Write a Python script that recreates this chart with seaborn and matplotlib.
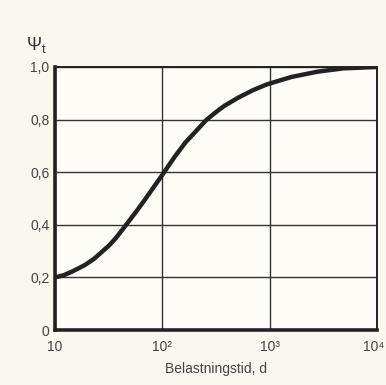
import matplotlib
matplotlib.use("Agg")
import matplotlib.pyplot as plt
import matplotlib.transforms as mtransforms
import seaborn as sns
import pandas as pd

# Data
load_time = [10, 12, 14.4, 19, 23, 27, 32, 37, 46, 59, 70, 100, 130, 164, 210, 259, 331, 381, 507, 700, 944, 1590, 2770, 4880, 10000]
psi_t = [0.20, 0.208, 0.222, 0.247, 0.27, 0.295, 0.322, 0.35, 0.40, 0.458, 0.50, 0.59, 0.658, 0.713, 0.76, 0.80, 0.835, 0.853, 0.883, 0.912, 0.934, 0.962, 0.982, 0.995, 1.0]
y_ticks = [0, 0.2, 0.4, 0.6, 0.8, 1.0]
y_tick_labels = ["0", "0,2", "0,4", "0,6", "0,8", "1,0"]
x_ticks = [10, 100, 1000, 10000]
x_tick_labels = ["10", "10²", "10³", "10⁴"]

df = pd.DataFrame({"t": load_time, "psi": psi_t})

sns.set_style("white")
plt.rcParams["font.family"] = ["Liberation Sans", "DejaVu Sans"]
plt.rcParams["mathtext.fontset"] = "custom"
plt.rcParams["mathtext.rm"] = "Liberation Sans"

bg = "#f9f7ee"
fig = plt.figure(figsize=(3.86, 3.85), dpi=100, facecolor=bg)
ax = fig.add_axes([55/386, 55/385, 322/386, 263/385])
ax.set_facecolor("#fdfcf6")

sns.lineplot(data=df, x="t", y="psi", ax=ax, color="#222222", linewidth=3.2)
for ln in ax.lines:
    ln.set_solid_joinstyle("round")
    ln.set_solid_capstyle("round")

ax.set_xscale("log")
ax.set_xlim(10, 10000)
ax.set_ylim(0, 1.0)
ax.set_xticks(x_ticks)
ax.set_xticklabels(x_tick_labels)
ax.set_yticks(y_ticks)
ax.set_yticklabels(y_tick_labels)
ax.minorticks_off()
ax.tick_params(axis="both", length=0, labelsize=10, colors="#444444")
ax.tick_params(axis="x", pad=7)
ax.tick_params(axis="y", pad=4)
ax.grid(True, color="#333333", linewidth=1.0)
ax.set_axisbelow(True)
for side, sp in ax.spines.items():
    sp.set_visible(True)
    sp.set_color("#222222")
    sp.set_linewidth(1.4)
ax.spines["left"].set_linewidth(2.6)
ax.spines["bottom"].set_linewidth(2.6)

# keep the last x tick label inside the figure
last = ax.get_xticklabels()[-1]
last.set_horizontalalignment("right")
last.set_transform(last.get_transform() + mtransforms.ScaledTranslation(7/100, 0, fig.dpi_scale_trans))

ax.set_xlabel("Belastningstid, d", fontsize=10, color="#444444", labelpad=6)
ax.set_ylabel("")
fig.text(36/386, 1 - 45/385, r"$\Psi_\mathrm{t}$", fontsize=13, color="#333333",
         ha="center", va="center")

fig.savefig("out.png", dpi=100, facecolor=bg)
